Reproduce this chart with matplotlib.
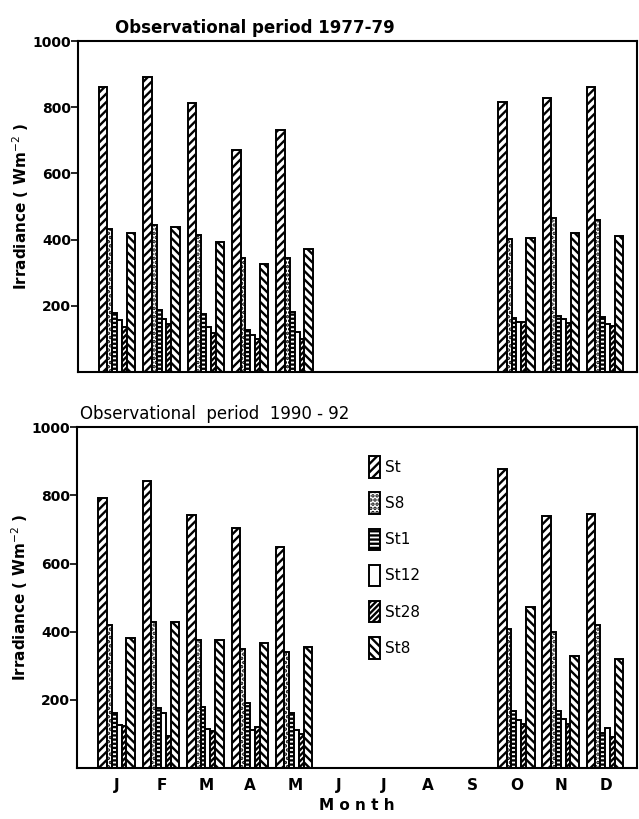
import matplotlib
matplotlib.use("Agg")
import matplotlib.pyplot as plt
import numpy as np
from matplotlib.patches import Patch

MONTHS = ["J", "F", "M", "A", "M", "J", "J", "A", "S", "O", "N", "D"]
STATIONS = ["St", "S8", "St1", "St12", "St28", "St8"]
# months with observations (Jan-May, Oct-Dec)
OBS_MONTHS = [0, 1, 2, 3, 4, 9, 10, 11]

# irradiance (W m-2), one row per observed month, columns = STATIONS
P1977 = [
    [860, 432, 178, 158, 137, 420],
    [892, 445, 186, 160, 145, 438],
    [812, 413, 174, 137, 118, 394],
    [672, 343, 127, 112, 100, 325],
    [730, 343, 180, 122, 100, 372],
    [816, 401, 162, 150, 150, 405],
    [828, 466, 168, 160, 148, 419],
    [860, 458, 166, 146, 138, 411],
]
P1990 = [
    [792, 420, 160, 125, 123, 382],
    [842, 428, 175, 162, 95, 428],
    [743, 376, 178, 115, 108, 376],
    [705, 348, 190, 110, 120, 368],
    [648, 340, 160, 110, 100, 355],
    [877, 408, 168, 140, 130, 472],
    [741, 400, 166, 145, 130, 330],
    [746, 421, 104, 118, 90, 320],
]

WIDTHS = [0.19, 0.11, 0.11, 0.11, 0.11, 0.19]
HATCHES = ["////", "....", "----", "", "//////", "\\\\\\\\"]

plt.rcParams["hatch.linewidth"] = 1.7
plt.rcParams["font.family"] = "DejaVu Sans"

fig = plt.figure(figsize=(6.39, 8.19), dpi=100)
ax1 = fig.add_axes([0.122, 0.5458, 0.875, 0.404])
ax2 = fig.add_axes([0.121, 0.0623, 0.876, 0.416])


def draw_panel(ax, data, title, title_weight):
    data = np.array(data)
    xs = np.array(OBS_MONTHS, dtype=float)
    left = xs - 0.42
    for j, st in enumerate(STATIONS):
        ax.bar(left, data[:, j], width=WIDTHS[j], align="edge",
               facecolor="white", edgecolor="black", linewidth=1.4,
               hatch=HATCHES[j], label=st)
        left = left + WIDTHS[j]
    ax.set_xlim(-0.895, 11.71)
    ax.set_ylim(0, 1000)
    ax.set_yticks([200, 400, 600, 800, 1000])
    ax.set_yticklabels(["200", "400", "600", "800", "1000"],
                       fontsize=10, fontweight="bold")
    ax.tick_params(axis="y", direction="out", length=5, width=1.2, pad=0)
    for sp in ax.spines.values():
        sp.set_linewidth(1.5)
    ax.set_ylabel("Irradiance ( Wm$^{-2}$ )", fontsize=11,
                  fontweight="bold", labelpad=1)
    ax.set_title(title, fontsize=12, fontweight=title_weight,
                 loc="left", x=0.066 if title_weight == "bold" else 0.005,
                 pad=6)


draw_panel(ax1, P1977, "Observational period 1977-79", "bold")
draw_panel(ax2, P1990, "Observational  period  1990 - 92", "normal")

ax1.set_xticks([])
ax2.set_xticks(range(12))
ax2.set_xticklabels(MONTHS, fontsize=11, fontweight="bold")
ax2.tick_params(axis="x", length=0, pad=7)
ax2.set_xlabel("M o n t h", fontsize=11, fontweight="bold", labelpad=4)

handles = [Patch(facecolor="white", edgecolor="black", linewidth=1.4,
                 hatch=h, label=s) for s, h in zip(STATIONS, HATCHES)]
ax2.legend(handles=handles, loc="upper left", bbox_to_anchor=(0.497, 0.955),
           frameon=False, fontsize=11, handlelength=0.7, handleheight=1.8,
           labelspacing=0.95, handletextpad=0.3)

fig.savefig("out.png", dpi=100)
